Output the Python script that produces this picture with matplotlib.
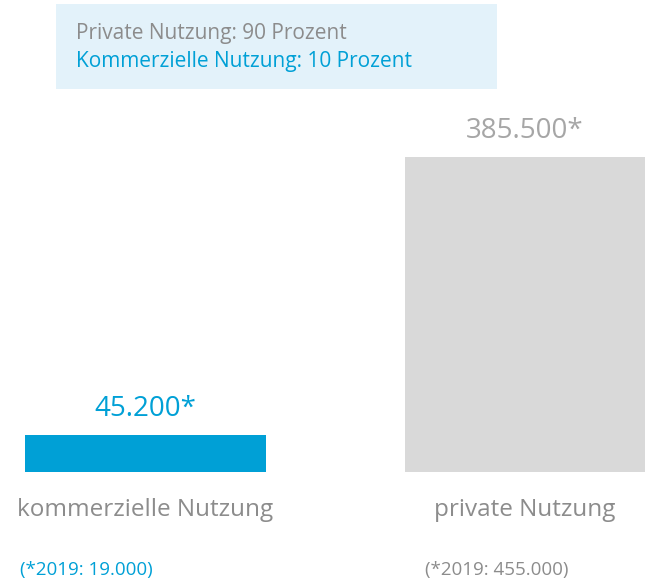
import matplotlib
matplotlib.use("Agg")
import matplotlib.pyplot as plt
from matplotlib.patches import Rectangle

# data
categories = ["kommerzielle Nutzung", "private Nutzung"]
values = [45200, 385500]          # aktueller Wert (*)
values_2019 = [19000, 455000]
shares = [10, 90]                 # Prozent

BLUE = "#00a0d6"
GREY_BAR = "#d9d9d9"
GREY_TXT = "#a6a6a6"
GREY_LBL = "#8c8c8c"
BOX = "#e3f2fa"
bar_colors = [BLUE, GREY_BAR]
value_colors = [BLUE, GREY_TXT]
foot_colors = [BLUE, GREY_LBL]

W, H = 646, 580
plt.rcParams["font.family"] = ["Open Sans", "DejaVu Sans"]


def fx(px):
    return px / W


def fy(py):
    return 1 - py / H


def de(v):
    return f"{v:,}".replace(",", ".")


fig = plt.figure(figsize=(W / 100, H / 100), dpi=100)
# axes spans full width; baseline at y=472 px
ax = fig.add_axes([0, fy(472), 1, 472 / H])
ax.set_xlim(-145.5 / 379.5, (W - 145.5) / 379.5)
ax.set_ylim(0, values[1] * 472 / 315)
ax.axis("off")

xs = range(len(categories))
ax.bar(xs, values, width=0.635, color=bar_colors)
for x, v, c in zip(xs, values, value_colors):
    ax.annotate(de(v) + "*", (x, v), xytext=(0, 9), textcoords="offset points",
                ha="center", va="bottom", fontsize=20, color=c)
    ax.annotate(categories[x], (x, 0), xytext=(0, -27), textcoords="offset points",
                ha="center", va="center", fontsize=17.5, color=GREY_LBL,
                annotation_clip=False)

# footnotes
foot_x = [20, 425]
for x0, v, c in zip(foot_x, values_2019, foot_colors):
    fig.text(fx(x0), fy(570), f"(*2019: {de(v)})", fontsize=13.5, color=c,
             ha="left", va="center")

# info box
fig.patches.append(Rectangle((fx(56), fy(89)), fx(497) - fx(56), fy(4) - fy(89),
                             transform=fig.transFigure, facecolor=BOX,
                             edgecolor="none", zorder=0))
fig.text(fx(76), fy(34), f"Private Nutzung: {shares[1]} Prozent", fontsize=15,
         color=GREY_LBL, ha="left", va="center")
fig.text(fx(76), fy(62), f"Kommerzielle Nutzung: {shares[0]} Prozent", fontsize=15,
         color=BLUE, ha="left", va="center")

fig.savefig("out.png", dpi=100)
